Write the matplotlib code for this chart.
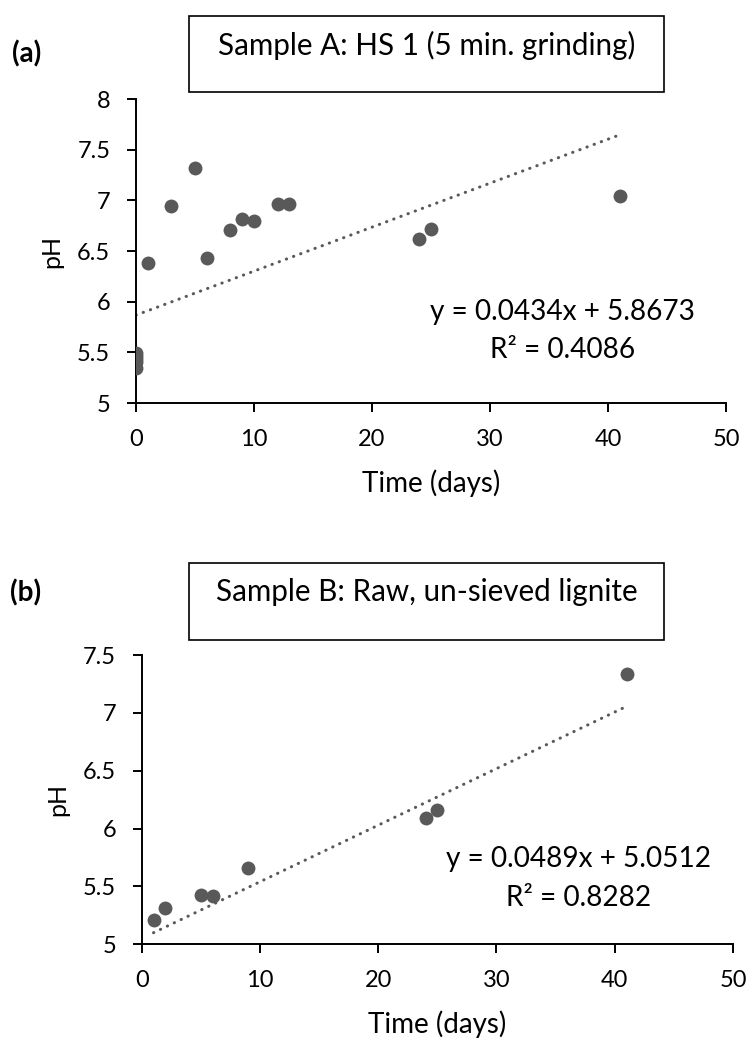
import numpy as np
import matplotlib
matplotlib.use("Agg")
import matplotlib.pyplot as plt
from matplotlib.patches import Rectangle

plt.rcParams['font.family'] = ['Lato', 'DejaVu Sans']

# Sample A: HS 1 (5 min. grinding)
days_a = [0, 0, 0, 0, 0, 1, 3, 5, 6, 8, 9, 10, 12, 13, 24, 25, 41]
ph_a = [5.35, 5.40, 5.43, 5.46, 5.49, 6.38, 6.94, 7.32, 6.43, 6.71,
        6.82, 6.80, 6.96, 6.96, 6.62, 6.72, 7.04]
slope_a, icpt_a, r2_a = 0.0434, 5.8673, 0.4086

# Sample B: raw, un-sieved lignite
days_b = [1, 2, 5, 6, 9, 24, 25, 41]
ph_b = [5.21, 5.31, 5.43, 5.42, 5.66, 6.09, 6.16, 7.34]
slope_b, icpt_b, r2_b = 0.0489, 5.0512, 0.8282

W, H = 753, 1041
fig = plt.figure(figsize=(W / 100, H / 100), dpi=100)

GREY = '#595959'


def panel(rect, days, ph, slope, icpt, r2, ylim, yticks, eq_xy, r2_xy, xlab_y, ylab_x):
    ax = fig.add_axes(rect)
    ax.scatter(days, ph, s=100, color=GREY, zorder=3, linewidths=0)
    xs = np.array([min(days), max(days)])
    ax.plot(xs, slope * xs + icpt, color=GREY, lw=2.2,
            linestyle=(0, (0.1, 2.4)), dash_capstyle='round', zorder=2)
    ax.set_xlim(0, 50)
    ax.set_ylim(*ylim)
    ax.set_xticks([0, 10, 20, 30, 40, 50])
    ax.set_yticks(yticks)
    ax.set_yticklabels([('%g' % v) for v in yticks])
    for s in ['top', 'right']:
        ax.spines[s].set_visible(False)
    for s in ['left', 'bottom']:
        ax.spines[s].set_linewidth(1.4)
        ax.spines[s].set_color('black')
    ax.tick_params(direction='out', length=6.5, width=1.4, labelsize=17, pad=12)
    ax.set_xlabel('Time (days)', fontsize=20, va='center')
    ax.set_ylabel('pH', fontsize=18, va='center')
    ax.xaxis.set_label_coords(0.5, xlab_y)
    ax.yaxis.set_label_coords(ylab_x, 0.5)
    ax.text(eq_xy[0], eq_xy[1], 'y = %.4fx + %.4f' % (slope, icpt), transform=ax.transAxes,
            ha='center', va='center', fontsize=20.2)
    ax.text(r2_xy[0], r2_xy[1], 'R² = %.4f' % r2, transform=ax.transAxes,
            ha='center', va='center', fontsize=20.2)
    return ax


def px_rect(left, right, top, bottom):
    return [left / W, 1 - bottom / H, (right - left) / W, (bottom - top) / H]


panel(px_rect(136, 726, 99, 403), days_a, ph_a, slope_a, icpt_a, r2_a,
      (5, 8), [5, 5.5, 6, 6.5, 7, 7.5, 8], (0.723, 0.300), (0.723, 0.175), -0.263, -0.143)
panel(px_rect(141.7, 733, 655, 944.3), days_b, ph_b, slope_b, icpt_b, r2_b,
      (5, 7.5), [5, 5.5, 6, 6.5, 7, 7.5], (0.738, 0.295), (0.738, 0.160), -0.275, -0.142)

# title boxes and panel letters
for top, bot, title in [(16, 92, 'Sample A: HS 1 (5 min. grinding)'),
                        (563, 640, 'Sample B: Raw, un-sieved lignite')]:
    fig.patches.append(Rectangle((189 / W, 1 - bot / H), (664 - 189) / W, (bot - top) / H,
                                 transform=fig.transFigure, fill=False, lw=1.2,
                                 edgecolor='black'))
    fig.text(427 / W, 1 - (top + 29) / H, title, ha='center', va='center', fontsize=21.3)

fig.text(12 / W, 1 - 54 / H, '(a)', ha='left', va='center', fontsize=20, fontweight='bold')
fig.text(10 / W, 1 - 593 / H, '(b)', ha='left', va='center', fontsize=20, fontweight='bold')

fig.savefig('out.png', dpi=100)
